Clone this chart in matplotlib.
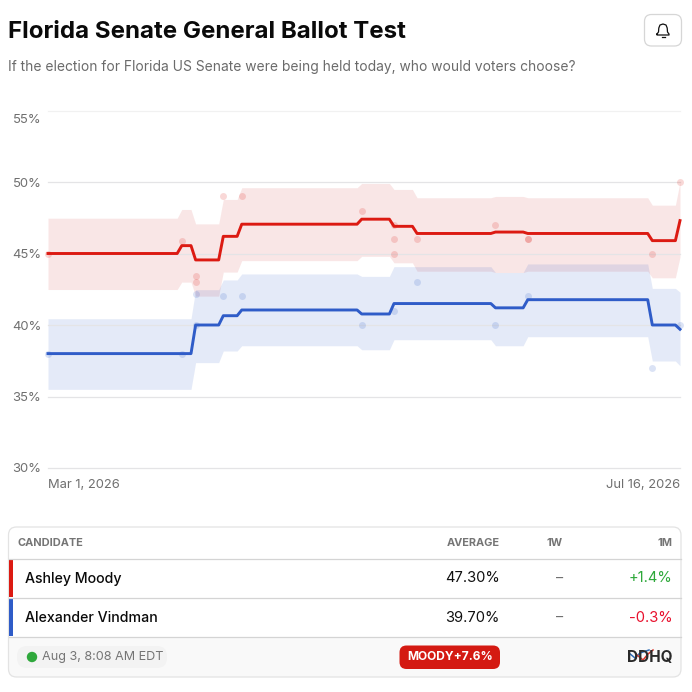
import pandas as pd
import matplotlib
matplotlib.use('Agg')
import matplotlib.pyplot as plt
from matplotlib.patches import FancyBboxPatch, Rectangle, Circle
from matplotlib.transforms import ScaledTranslation

plt.rcParams['font.family'] = ['Inter', 'DejaVu Sans']

RED = '#dc1a12'
BLUE = '#2f5cc8'

# knots where the averages change
knot_dates = ['2026-03-01', '2026-03-29', '2026-03-30', '2026-04-01', '2026-04-02', '2026-04-07',
              '2026-04-08', '2026-04-11', '2026-04-12', '2026-05-07', '2026-05-08', '2026-05-14',
              '2026-05-15', '2026-05-19', '2026-05-20', '2026-06-05', '2026-06-06', '2026-06-12',
              '2026-06-13', '2026-07-09', '2026-07-10', '2026-07-15', '2026-07-16']
moody_avg = [45, 45, 45.55, 45.55, 44.55, 44.55, 46.2, 46.2, 47.05, 47.05, 47.4, 47.4,
             46.9, 46.9, 46.4, 46.4, 46.5, 46.5, 46.4, 46.4, 45.9, 45.9, 47.3]
moody_hi = [47.47, 47.47, 48.08, 48.08, 47.07, 47.07, 48.78, 48.78, 49.6, 49.6, 49.9, 49.9,
            49.48, 49.48, 48.9, 48.9, 48.99, 48.99, 48.9, 48.9, 48.38, 48.38, 50]
moody_lo = [42.48, 42.48, 43.0, 43.0, 42.02, 42.02, 43.7, 43.7, 44.5, 44.5, 44.8, 44.8,
            44.35, 44.35, 43.76, 43.76, 43.67, 43.67, 43.76, 43.76, 43.3, 43.3, 44.75]
vindman_avg = [38, 38, 38, 38, 40, 40, 40.65, 40.65, 41.05, 41.05, 40.77, 40.77,
               41.5, 41.5, 41.5, 41.5, 41.2, 41.2, 41.77, 41.77, 40, 40, 39.7]
vindman_hi = [40.44, 40.44, 40.44, 40.44, 42.47, 42.47, 43.15, 43.15, 43.57, 43.57, 43.4, 43.4,
              44.08, 44.08, 44.08, 44.08, 43.67, 43.67, 44.27, 44.27, 42.56, 42.56, 42.3]
vindman_lo = [35.5, 35.5, 35.5, 35.5, 37.37, 37.37, 38.18, 38.18, 38.55, 38.55, 38.27, 38.27,
              38.97, 38.97, 38.97, 38.97, 38.55, 38.55, 39.18, 39.18, 37.48, 37.48, 37.15]

# individual polls
moody_poll_dates = ['2026-03-01', '2026-03-30', '2026-04-02', '2026-04-02', '2026-04-08', '2026-04-12',
                    '2026-05-08', '2026-05-15', '2026-05-15', '2026-05-15', '2026-05-20', '2026-06-06',
                    '2026-06-13', '2026-06-13', '2026-07-10', '2026-07-16']
moody_polls = [45, 45.9, 43.4, 43, 49, 49, 48, 47, 46, 45, 46, 47, 46, 46, 45, 50]
vindman_poll_dates = ['2026-03-01', '2026-03-30', '2026-04-02', '2026-04-02', '2026-04-08', '2026-04-12',
                      '2026-05-08', '2026-05-15', '2026-05-20', '2026-06-06', '2026-06-13', '2026-07-10',
                      '2026-07-16']
vindman_polls = [38, 38, 42.2, 40, 42, 42, 40, 41, 43, 40, 42, 37, 40]

y_ticks = [30, 35, 40, 45, 50, 55]
x_ticks = ['2026-03-01', '2026-07-16']
x_labels = ['Mar 1, 2026', 'Jul 16, 2026']

table_headers = ['CANDIDATE', 'AVERAGE', '1W', '1M']
candidates = ['Ashley Moody', 'Alexander Vindman']
averages = ['47.30%', '39.70%']
week_change = ['–', '–']
month_change = ['+1.4%', '-0.3%']

W, H = 692, 692
fig = plt.figure(figsize=(W / 100, H / 100), dpi=100, facecolor='white')

# page layer in pixel coordinates
page = fig.add_axes([0, 0, 1, 1], zorder=0)
page.set_xlim(0, W)
page.set_ylim(H, 0)
page.axis('off')

##################################################################
# header
##################################################################
page.text(8, 31.5, 'Florida Senate General Ballot Test', fontsize=17.3, fontweight='bold',
          color='#0a0a0a', va='center')
page.text(8, 67.5, 'If the election for Florida US Senate were being held today, who would voters choose?',
          fontsize=9.95, color='#6b6b6b', va='center')

page.add_patch(FancyBboxPatch((644.5, 14.5), 37, 31.5, boxstyle='round,pad=0,rounding_size=7',
                              fc='white', ec='#d6d6d6', lw=0.9))
# bell icon
page.plot([657, 658.5, 658.8, 660, 663, 666, 667.2, 667.5, 669, 669, 657, 657],
          [34, 32, 28, 25, 24, 25, 28, 32, 34, 35, 35, 34], color='#111111', lw=0.9)
page.plot([661.5, 664.5], [37, 37], color='#111111', lw=0.9)

##################################################################
# chart
##################################################################
ax = fig.add_axes([48 / W, 1 - 468 / H, 632 / W, (468 - 110.5) / H], zorder=1)
ax.patch.set_alpha(0)
knots = pd.to_datetime(knot_dates)

ax.fill_between(knots, moody_lo, moody_hi, color='#d02a2a', alpha=0.115, lw=0, zorder=2)
ax.fill_between(knots, vindman_lo, vindman_hi, color=BLUE, alpha=0.125, lw=0, zorder=2)

for tick in y_ticks:
    ax.axhline(tick, color='#f1f1f1' if tick == 55 else '#e4e4e6', lw=0.9, zorder=3, clip_on=False)

ax.scatter(pd.to_datetime(moody_poll_dates), moody_polls, s=25, color=RED, alpha=0.17, lw=0,
           zorder=4, clip_on=False)
ax.scatter(pd.to_datetime(vindman_poll_dates), vindman_polls, s=25, color=BLUE, alpha=0.17, lw=0,
           zorder=4, clip_on=False)

ax.plot(knots, moody_avg, color=RED, lw=2.1, zorder=5, solid_joinstyle='round', clip_on=False)
ax.plot(knots, vindman_avg, color=BLUE, lw=2.1, zorder=5, solid_joinstyle='round', clip_on=False)

ax.set_xlim(pd.Timestamp(x_ticks[0]), pd.Timestamp(x_ticks[1]))
ax.set_ylim(30, 55)
for s in ax.spines.values():
    s.set_visible(False)

ax.set_yticks(y_ticks)
ax.set_yticklabels([f'{t}%' for t in y_ticks], fontsize=9.4, color='#6f6f6f')
ax.tick_params(axis='y', length=0, pad=4.8)
# top label sits under its gridline
top = ax.get_yticklabels()[-1]
top.set_transform(top.get_transform() + ScaledTranslation(0, -8 / 100, fig.dpi_scale_trans))

ax.set_xticks(pd.to_datetime(x_ticks))
ax.set_xticklabels(x_labels, fontsize=9.3, color='#6f6f6f')
ax.tick_params(axis='x', length=0, pad=8)
ax.get_xticklabels()[0].set_ha('left')
ax.get_xticklabels()[1].set_ha('right')

##################################################################
# table
##################################################################
# footer fill first, clipped by the rounded card
card = FancyBboxPatch((8.5, 527), 672.5, 150, boxstyle='round,pad=0,rounding_size=8',
                      fc='white', ec='none')
page.add_patch(card)
footer = Rectangle((8.5, 636.5), 672.5, 41, fc='#f9f9f9', ec='none')
page.add_patch(footer)
footer.set_clip_path(card)
page.add_patch(FancyBboxPatch((8.5, 527), 672.5, 150, boxstyle='round,pad=0,rounding_size=8',
                              fc='none', ec='#e3e3e3', lw=0.9))

for y in [558.5, 597.5, 636.5]:
    page.plot([8.5, 681], [y, y], color='#d4d4d4', lw=0.9)

page.add_patch(Rectangle((9, 559), 4, 38, fc=RED, ec='none'))
page.add_patch(Rectangle((9, 598), 4, 38, fc=BLUE, ec='none'))

head_kw = dict(fontsize=7.9, fontweight='bold', color='#757575', va='center')
page.text(17, 542.5, table_headers[0], **head_kw)
page.text(499.5, 542.5, table_headers[1], ha='right', **head_kw)
page.text(562.5, 542.5, table_headers[2], ha='right', **head_kw)
page.text(672.5, 542.5, table_headers[3], ha='right', **head_kw)

change_colors = ['#2ea83a', '#e8112d']
for i, y in enumerate([578.5, 617.5]):
    page.text(25, y, candidates[i], fontsize=10.2, fontweight='medium', color='#0a0a0a', va='center')
    page.text(499.5, y, averages[i], fontsize=10.6, color='#111111', va='center', ha='right')
    page.text(563, y, week_change[i], fontsize=10.2, color='#6f6f6f', va='center', ha='right')
    page.text(672.5, y, month_change[i], fontsize=10.6, color=change_colors[i], va='center', ha='right')

# footer
page.add_patch(FancyBboxPatch((17, 646), 150, 22, boxstyle='round,pad=0,rounding_size=10',
                              fc='#f3f3f3', ec='none'))
page.add_patch(Circle((32, 657), 5.2, fc='#2fa83c', ec='none'))
page.text(42, 657, 'Aug 3, 8:08 AM EDT', fontsize=9.1, color='#757575', va='center')

page.add_patch(FancyBboxPatch((399.5, 645.5), 100.5, 23.5, boxstyle='round,pad=0,rounding_size=7',
                              fc='#d41a12', ec='none'))
page.text(449.7, 657.2, 'MOODY+7.6%', fontsize=8.6, fontweight='bold', color='white', va='center', ha='center')

# logo
page.text(673, 657.5, 'DDHQ', fontsize=11, fontweight='bold', color='#2a2a2a', va='center', ha='right')
page.plot([629, 635, 640, 649], [653, 658, 653, 650], color='#2f6db5', lw=1.1)
page.plot([637, 643, 648, 653], [655, 660, 654, 650], color='#d9352b', lw=1.1)

fig.savefig('out.png', dpi=100)
